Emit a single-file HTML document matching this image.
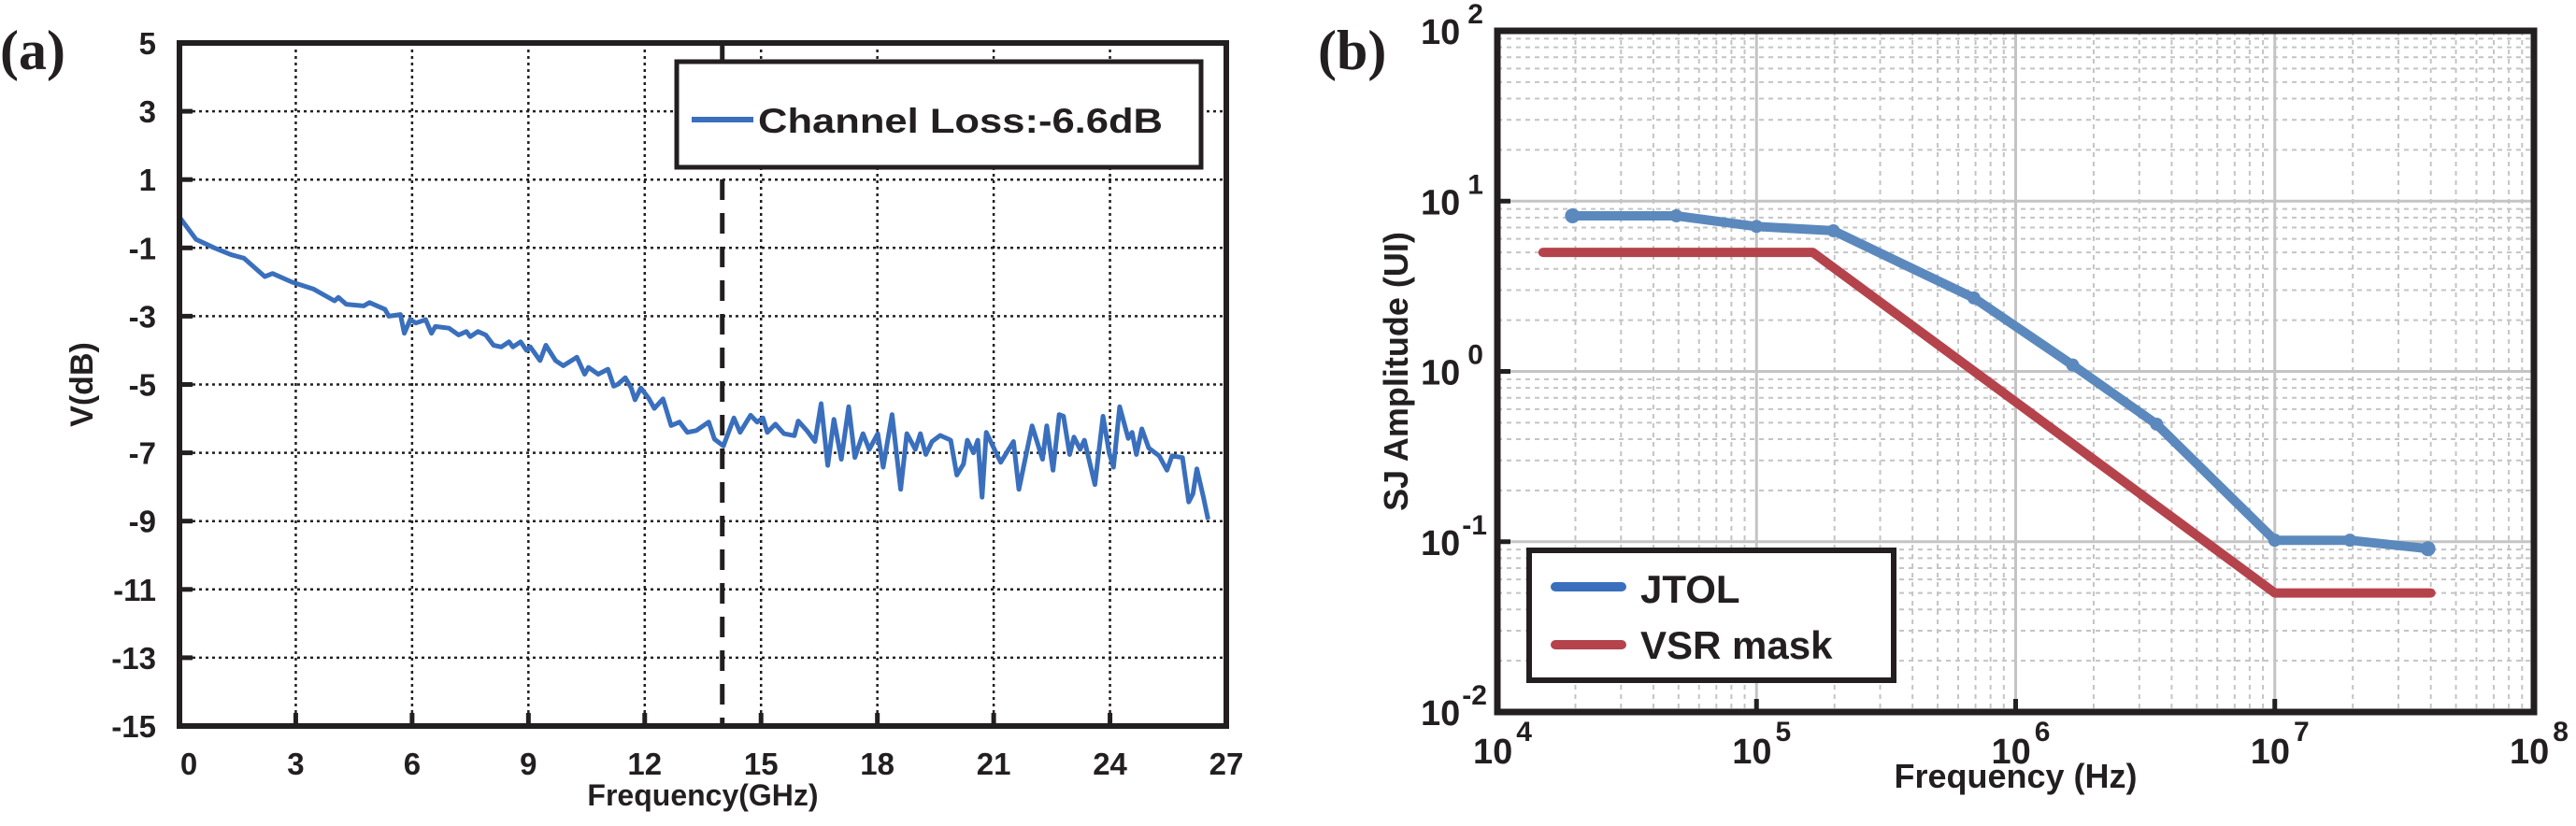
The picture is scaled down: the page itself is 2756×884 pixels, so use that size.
<!DOCTYPE html>
<html><head><meta charset="utf-8">
<style>
html,body{margin:0;padding:0;background:#fff;}
svg{display:block;}
text{font-family:"Liberation Sans",Arial,sans-serif;font-weight:bold;fill:#231f20;}
</style></head>
<body>
<svg id="fig" width="2756" height="884" viewBox="0 0 2756 884" xmlns="http://www.w3.org/2000/svg">
<g id="chartA"></g>
<g id="chartB"></g>
</svg>
<script>
// ---------- Chart (a) data ----------
const lossFreqGHz = [0,0.43,0.9,1.33,1.66,2.2,2.4,2.9,3.45,4.0,4.1,4.3,4.75,4.9,5.3,5.4,5.7,5.8,5.95,6.1,6.35,6.5,6.6,6.95,7.2,7.4,7.5,7.7,7.9,8.1,8.3,8.5,8.6,8.8,8.95,9.05,9.3,9.45,9.7,9.9,10.25,10.45,10.55,10.8,11.05,11.2,11.3,11.5,11.65,11.75,11.9,12.1,12.25,12.47,12.68,12.9,13.1,13.33,13.65,13.8,14.03,14.3,14.46,14.73,14.9,15.05,15.16,15.37,15.59,15.86,15.96,16.18,16.39,16.55,16.72,16.88,17.07,17.26,17.42,17.63,17.79,18.01,18.15,18.38,18.6,18.76,18.98,19.11,19.25,19.41,19.62,19.89,20.05,20.22,20.32,20.48,20.59,20.7,20.81,21.18,21.51,21.65,21.99,22.26,22.37,22.53,22.69,22.8,22.96,23.07,23.23,23.34,23.61,23.82,23.98,24.09,24.25,24.47,24.57,24.68,24.82,25.0,25.27,25.47,25.6,25.87,26.03,26.14,26.24,26.41,26.53];
const lossDB = [-0.1,-0.75,-1.0,-1.2,-1.3,-1.84,-1.75,-2.0,-2.2,-2.55,-2.45,-2.65,-2.7,-2.6,-2.8,-3.0,-2.95,-3.5,-3.1,-3.2,-3.1,-3.5,-3.3,-3.35,-3.55,-3.45,-3.6,-3.45,-3.55,-3.85,-3.9,-3.75,-3.9,-3.75,-4.0,-3.9,-4.3,-3.85,-4.3,-4.45,-4.2,-4.7,-4.5,-4.7,-4.55,-5.05,-5.0,-4.8,-5.1,-5.45,-5.1,-5.4,-5.7,-5.42,-6.2,-6.1,-6.4,-6.35,-6.1,-6.6,-6.8,-5.98,-6.4,-5.9,-6.1,-5.98,-6.4,-6.16,-6.44,-6.5,-6.07,-6.35,-6.67,-5.56,-7.37,-6.02,-7.19,-5.65,-7.14,-6.44,-6.9,-6.44,-7.42,-5.88,-8.07,-6.44,-6.9,-6.44,-7.05,-6.67,-6.49,-6.63,-7.65,-7.33,-6.63,-7.0,-6.63,-8.3,-6.4,-7.28,-6.67,-8.07,-6.21,-7.19,-6.21,-7.51,-5.88,-5.93,-7.05,-6.54,-6.9,-6.63,-7.93,-5.93,-7.0,-7.42,-5.65,-6.58,-6.4,-7.05,-6.3,-6.86,-7.09,-7.51,-7.09,-7.14,-8.44,-8.2,-7.47,-8.3,-8.95];
const aXTicks = [0,3,6,9,12,15,18,21,24,27];
const aYTicks = [5,3,1,-1,-3,-5,-7,-9,-11,-13,-15];
const aCutoff = [14];

// ---------- Chart (b) data ----------
const jtolFreq = [1.95e4,4.9e4,1.0e5,1.98e5,6.9e5,1.66e6,3.5e6,1.0e7,1.95e7,3.9e7];
const jtolAmp  = [8.2,8.2,7.1,6.7,2.7,1.09,0.49,0.102,0.102,0.091];
const vsrFreq  = [1.5e4,1.65e5,1.0e7,4.0e7];
const vsrAmp   = [5.0,5.0,0.05,0.05];
const bXDecades = [4,5,6,7,8];
const bYDecades = [-2,-1,0,1,2];

const NS='http://www.w3.org/2000/svg';
function mk(parent,tag,attrs,txt){const e=document.createElementNS(NS,tag);for(const k in attrs)e.setAttribute(k,attrs[k]);if(txt!==undefined)e.textContent=txt;parent.appendChild(e);return e;}

// ---------- Chart (a) ----------
(function(){
  const g=document.getElementById('chartA');
  const X0=192,X1=1312,Y0=46,Y1=777;
  const xs=v=>X0+(v-0)/(27-0)*(X1-X0);
  const ys=v=>Y0+(5-v)/(5-(-15))*(Y1-Y0);
  const grid=mk(g,'g',{});
  
  
  aXTicks.forEach(t=>{ if(t>0&&t<27){
    const l=mk(grid,'line',{x1:xs(t),x2:xs(t),y1:Y0,y2:Y1,stroke:'#231f20','stroke-width':2.5,'stroke-dasharray':'3 4'});
    
    
  }});
  aYTicks.forEach(t=>{ if(t<5&&t>-15){
    const l=mk(grid,'line',{x1:X0,x2:X1,y1:ys(t),y2:ys(t),stroke:'#231f20','stroke-width':2.5,'stroke-dasharray':'3 4'});
    
    
  }});
  // top dotted at 5
  mk(grid,'line',{x1:X0,x2:X1,y1:ys(5)+2,y2:ys(5)+2,stroke:'#231f20','stroke-width':2,'stroke-dasharray':'3 4'});
  // cutoff dashed
  aCutoff.forEach(c=>{
    const l=mk(g,'line',{x1:xs(c),x2:xs(c),y1:Y0+2,y2:Y1,stroke:'#231f20','stroke-width':5,'stroke-dasharray':'22 14'});
    
    
  });
  // series
  const pts=lossFreqGHz.map((f,i)=>xs(f).toFixed(1)+','+ys(lossDB[i]).toFixed(1)).join(' ');
  const pl=mk(g,'polyline',{points:pts,fill:'none',stroke:'#3a6fbd','stroke-width':5,'stroke-linejoin':'round'});
  
  
  // axes box
  const box=mk(g,'rect',{x:X0,y:Y0,width:X1-X0,height:Y1-Y0,fill:'none',stroke:'#231f20','stroke-width':6});
  
  
  // ticks & labels
  aXTicks.forEach(t=>{
    mk(g,'line',{x1:xs(t),x2:xs(t),y1:Y1,y2:Y1-14,stroke:'#231f20','stroke-width':5});
    const tx=mk(g,'text',{x:xs(t)+(t===0?10:0),y:Y1+52,'text-anchor':'middle','font-size':33},String(t));
    
    
  });
  aYTicks.forEach(t=>{
    mk(g,'line',{x1:X0,x2:X0+14,y1:ys(t),y2:ys(t),stroke:'#231f20','stroke-width':5});
    const tx=mk(g,'text',{x:167,y:ys(t)+12,'text-anchor':'end','font-size':33},String(t));
    
    
  });
  const xt=mk(g,'text',{x:(X0+X1)/2,y:862,'text-anchor':'middle','font-size':32},'Frequency(GHz)');
  
  
  const yt=mk(g,'text',{x:0,y:0,'text-anchor':'middle','font-size':34,transform:'translate(99,'+((Y0+Y1)/2)+') rotate(-90)'},'V(dB)');
  
  
  const pa=mk(g,'text',{x:0,y:74,'font-size':60,style:'font-family:"Liberation Serif",serif'},'(a)');
  
  
  // legend
  const lg=mk(g,'g',{});
  
  
  mk(lg,'rect',{x:724,y:66,width:561,height:113,fill:'#fff',stroke:'#231f20','stroke-width':5});
  const ll=mk(lg,'line',{x1:740,x2:806,y1:128,y2:128,stroke:'#3a6fbd','stroke-width':6});
  
  
  const lt=mk(lg,'text',{x:811,y:142,'font-size':37,textLength:433,lengthAdjust:'spacingAndGlyphs'},'Channel Loss:-6.6dB');
  
  
})();

// ---------- Chart (b) ----------
(function(){
  const g=document.getElementById('chartB');
  const X0=1602,X1=2711,Y0=33,Y1=762;
  const xs=f=>X0+(Math.log10(f)-4)/4*(X1-X0);
  const ys=v=>Y1-(Math.log10(v)+2)/4*(Y1-Y0);
  const grid=mk(g,'g',{});
  
  
  for(let d=4;d<8;d++){for(let m=2;m<=9;m++){
    const x=xs(m*Math.pow(10,d));
    const l=mk(grid,'line',{x1:x,x2:x,y1:Y0,y2:Y1,stroke:'#c4c4c4','stroke-width':2,'stroke-dasharray':'5 5'});
    
    
  }}
  for(let d=-2;d<2;d++){for(let m=2;m<=9;m++){
    const y=ys(m*Math.pow(10,d));
    const l=mk(grid,'line',{x1:X0,x2:X1,y1:y,y2:y,stroke:'#c4c4c4','stroke-width':2,'stroke-dasharray':'5 5'});
    
    
  }}
  bXDecades.forEach(d=>{const x=xs(Math.pow(10,d));
    const l=mk(grid,'line',{x1:x,x2:x,y1:Y0,y2:Y1,stroke:'#c4c4c4','stroke-width':3});
    
    
  });
  bYDecades.forEach(d=>{const y=ys(Math.pow(10,d));
    const l=mk(grid,'line',{x1:X0,x2:X1,y1:y,y2:y,stroke:'#c4c4c4','stroke-width':3});
    
    
  });
  // VSR mask
  const vp=vsrFreq.map((f,i)=>xs(f).toFixed(1)+','+ys(vsrAmp[i]).toFixed(1)).join(' ');
  const vl=mk(g,'polyline',{points:vp,fill:'none',stroke:'#b5434c','stroke-width':10,'stroke-linecap':'round','stroke-linejoin':'round'});
  
  
  // JTOL
  const jp=jtolFreq.map((f,i)=>xs(f).toFixed(1)+','+ys(jtolAmp[i]).toFixed(1)).join(' ');
  const jl=mk(g,'polyline',{points:jp,fill:'none',stroke:'#5b89bd','stroke-width':10,'stroke-linecap':'round','stroke-linejoin':'round'});
  
  
  jtolFreq.forEach((f,i)=>{
    const c=mk(g,'circle',{cx:xs(f),cy:ys(jtolAmp[i]),r:(i===0||i===jtolFreq.length-1)?8:7,fill:'#5b89bd'});
    
    
  });
  // frame
  const box=mk(g,'rect',{x:X0,y:Y0,width:X1-X0,height:Y1-Y0,fill:'none',stroke:'#231f20','stroke-width':7});
  
  
  bXDecades.forEach(d=>{const x=xs(Math.pow(10,d));
    mk(g,'line',{x1:x,x2:x,y1:Y1,y2:Y1-14,stroke:'#231f20','stroke-width':5});
    const t=mk(g,'text',{x:x-26,y:817,'font-size':38},'10');
    
    
    mk(t,'tspan',{dx:4,dy:-24,'font-size':30},String(d));
  });
  bYDecades.forEach(d=>{const y=ys(Math.pow(10,d));
    mk(g,'line',{x1:X0,x2:X0+14,y1:y,y2:y,stroke:'#231f20','stroke-width':5});
    const t=mk(g,'text',{x:1520,y:y+14,'font-size':38},'10');
    
    
    mk(t,'tspan',{dx:d<0?2:8,dy:-22,'font-size':30},String(d));
  });
  const xt=mk(g,'text',{x:(X0+X1)/2,y:843,'text-anchor':'middle','font-size':36},'Frequency (Hz)');
  
  
  const yt=mk(g,'text',{x:0,y:0,'text-anchor':'middle','font-size':36,transform:'translate(1506,'+((Y0+Y1)/2)+') rotate(-90)'},'SJ Amplitude (UI)');
  
  
  const pb=mk(g,'text',{x:1410,y:74,'font-size':60,style:'font-family:"Liberation Serif",serif'},'(b)');
  
  
  const lg=mk(g,'g',{});
  
  
  mk(lg,'rect',{x:1636,y:589,width:390,height:139,fill:'#fff',stroke:'#231f20','stroke-width':6});
  const s1=mk(lg,'line',{x1:1664,x2:1735,y1:628,y2:628,stroke:'#3a6fbd','stroke-width':10,'stroke-linecap':'round'});
  
  
  const t1=mk(lg,'text',{x:1755,y:645,'font-size':42},'JTOL');
  
  
  const s2=mk(lg,'line',{x1:1664,x2:1735,y1:690,y2:690,stroke:'#b5434c','stroke-width':10,'stroke-linecap':'round'});
  
  
  const t2=mk(lg,'text',{x:1755,y:705,'font-size':42},'VSR mask');
  
  
})();
</script>
</body></html>
